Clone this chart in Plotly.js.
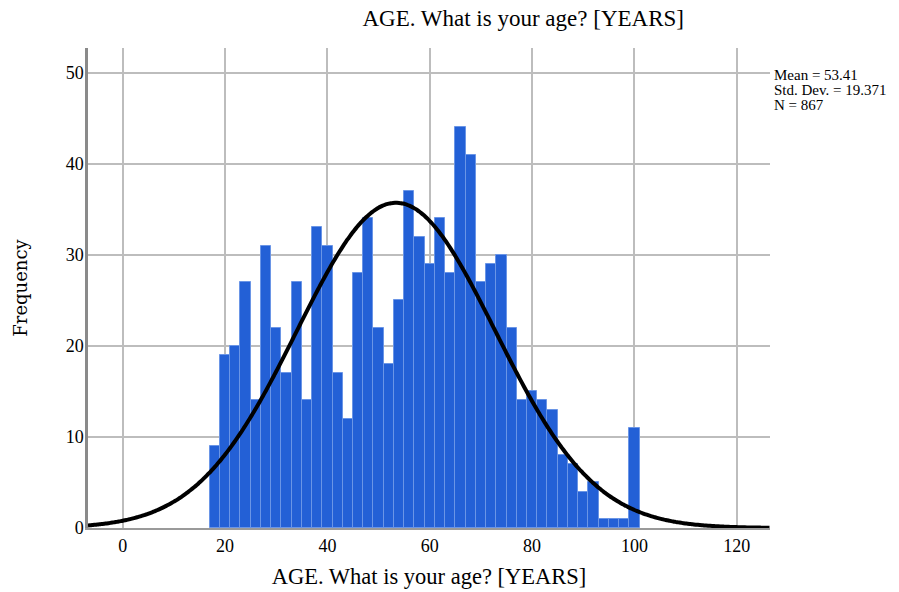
<!DOCTYPE html>
<html>
<head>
<meta charset="utf-8">
<script src="https://cdn.plot.ly/plotly-3.0.1.min.js"></script>
<style>html,body{margin:0;padding:0;background:#fff;}#chart{width:899px;height:592px;}</style>
</head>
<body>
<div id="chart"></div>
<script>
// Bin centres (2-year bins, 17..101) and observed frequencies
const binCenters = [18,20,22,24,26,28,30,32,34,36,38,40,42,44,46,48,50,52,54,56,58,60,62,64,66,68,70,72,74,76,78,80,82,84,86,88,90,92,94,96,98,100];
const frequencies = [9,19,20,27,14,31,22,17,27,14,33,31,17,12,28,34,22,18,25,37,32,29,34,28,44,41,27,29,30,22,14,15,14,13,8,7,4,5,1,1,1,11];
const binWidth = 2;
// Summary statistics shown on the chart
const meanAge = 53.41;
const stdDev = 19.371;
const nCount = 867;
const statLines = ["Mean = " + meanAge, "Std. Dev. = " + stdDev, "N = " + nCount];
const xTicks = [0,20,40,60,80,100,120];
const yTicks = [0,10,20,30,40,50];

// Fitted normal curve from the shown statistics (scaled to counts per bin)
const curveX = [], curveY = [];
for (let x = -6.8; x <= 126.6; x += 0.4) {
  curveX.push(x);
  const z = (x - meanAge) / stdDev;
  curveY.push(nCount * binWidth * Math.exp(-0.5 * z * z) / (stdDev * Math.sqrt(2 * Math.PI)));
}

const serif = "Liberation Serif, Times New Roman, serif";

const traces = [
  {
    type: "bar",
    x: binCenters,
    y: frequencies,
    width: binWidth,
    marker: {color: "#2360d6", line: {color: "#6a95e6", width: 1}},
    hoverinfo: "x+y"
  },
  {
    type: "scatter",
    mode: "lines",
    x: curveX,
    y: curveY,
    line: {color: "#000000", width: 4, shape: "spline"},
    hoverinfo: "skip"
  }
];

const statY = [0.944, 0.913, 0.882];

const layout = {
  width: 899,
  height: 592,
  margin: {l: 88, r: 129, t: 48, b: 64},
  paper_bgcolor: "#ffffff",
  plot_bgcolor: "#ffffff",
  showlegend: false,
  bargap: 0,
  font: {family: serif, color: "#000"},
  title: {
    text: "AGE. What is your age? [YEARS]",
    font: {family: serif, size: 23, color: "#000"},
    x: 0.582, xanchor: "center", xref: "container",
    y: 0.97, yanchor: "middle", yref: "container"
  },
  xaxis: {
    range: [-6.8, 126.5],
    tickvals: xTicks,
    ticktext: xTicks.map(String),
    ticks: "",
    showgrid: true,
    gridcolor: "#bdbdbd",
    gridwidth: 1.5,
    zeroline: false,
    showline: true,
    linecolor: "#9a9a9a",
    linewidth: 2,
    tickfont: {family: serif, size: 18, color: "#000"},
    title: {text: "AGE. What is your age? [YEARS]", font: {family: serif, size: 22.5, color: "#000"}, standoff: 14}
  },
  yaxis: {
    range: [0, 52.7],
    tickvals: yTicks,
    ticktext: yTicks.map(String),
    ticks: "",
    ticklabelstandoff: -2,
    showgrid: true,
    gridcolor: "#bdbdbd",
    gridwidth: 1.5,
    zeroline: false,
    showline: true,
    linecolor: "#8a8a8a",
    linewidth: 2.5,
    tickfont: {family: serif, size: 18, color: "#000"},
    title: {text: "Frequency", font: {family: "DejaVu Serif, serif", size: 18, color: "#000"}, standoff: 34}
  },
  annotations: statLines.map((t, i) => ({
    xref: "paper", yref: "paper",
    x: 1.003, y: statY[i],
    xanchor: "left", yanchor: "middle",
    align: "left",
    showarrow: false,
    text: t,
    font: {family: serif, size: 15, color: "#000"}
  }))
};

Plotly.newPlot("chart", traces, layout, {displayModeBar: false, responsive: false});
</script>
</body>
</html>
